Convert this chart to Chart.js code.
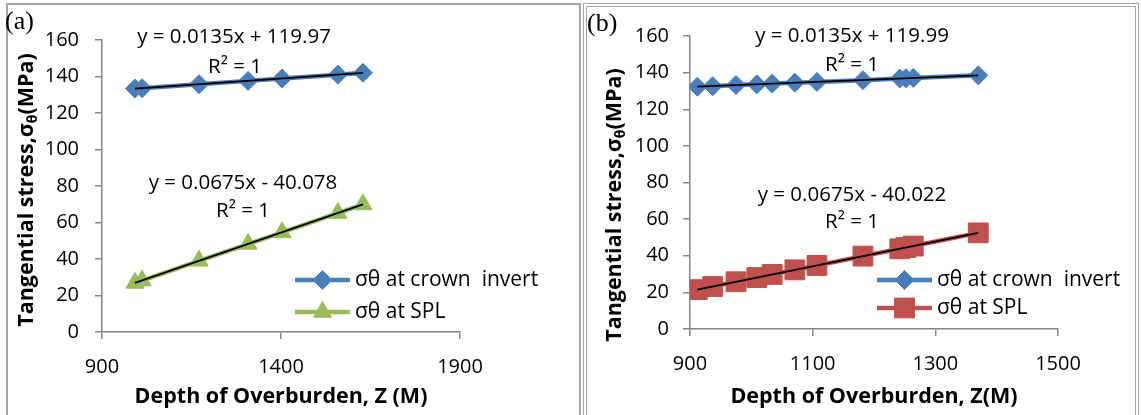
<!DOCTYPE html>
<html>
<head>
<meta charset="utf-8">
<script src="https://cdn.jsdelivr.net/npm/chart.js@4.4.1/dist/chart.umd.min.js"></script>
<style>
  body { margin: 0; width: 1141px; height: 415px; background: #fff; position: relative; overflow: hidden; }
  .frame { position: absolute; top: 3px; height: 430px; box-sizing: border-box; }
  #frameA { left: 6px; width: 575px; border: 2px solid #a6a6a6; }
  #frameB { left: 583px; width: 556px; border: 4px double #a6a6a6; }
  canvas { position: absolute; top: 0; }
  #chartA { left: 0; }
  #chartB { left: 582px; }
</style>
</head>
<body>
<div class="frame" id="frameA"></div>
<div class="frame" id="frameB"></div>
<canvas id="chartA" width="582" height="415"></canvas>
<canvas id="chartB" width="559" height="415"></canvas>
<script>
// (a) data
const depthA = [992, 1012, 1171, 1308, 1403, 1559, 1629];
const crownA = [133.4, 133.6, 135.8, 137.6, 138.9, 141.0, 142.0];
const splA = [26.9, 28.2, 39.0, 48.2, 54.6, 65.2, 69.9];
// trendline ends (a)
const trendDepthA = [992, 1629];
const trendCrownA = [133.4, 142.0];
const trendSplA = [26.9, 69.9];

// (b) data
const depthB = [912, 937, 975, 1009, 1034, 1071, 1107, 1182, 1242, 1252, 1264, 1370];
const crownB = [132.3, 132.6, 133.2, 133.6, 134.0, 134.5, 134.9, 135.9, 136.8, 136.9, 137.1, 138.5];
const splB = [21.5, 23.2, 25.8, 28.1, 29.8, 32.3, 34.7, 39.8, 43.8, 44.5, 45.3, 52.5];
// trendline ends (b)
const trendDepthB = [912, 1370];
const trendCrownB = [132.3, 138.5];
const trendSplB = [21.5, 52.5];

const yTicks = [0, 160, 20];
const seriesNames = ["σθ at crown  invert", "σθ at SPL"];

const blue = "#4a7ebb";
const green = "#9bbb59";
const red = "#c0504d";
const axisGrey = "#868686";
const sans = "'Open Sans', sans-serif";

Chart.defaults.font.family = sans;

const toPoints = (xs, ys) => xs.map((x, i) => ({ x: x, y: ys[i] }));
// plain numbers, no thousands comma
const plainTick = (value) => String(value);

// draws the equations, the y title with its subscript, the panel letter and the legend
const notesPlugin = {
  id: "notes",
  afterDraw(chart, args, opts) {
    const ctx = chart.ctx;
    ctx.save();
    ctx.fillStyle = "#000";
    ctx.textBaseline = "middle";

    // panel letter
    ctx.font = "26px 'Liberation Serif', serif";
    ctx.textAlign = "left";
    ctx.fillText(opts.letter, opts.letterPos[0], opts.letterPos[1]);

    // equations
    ctx.font = "20.5px " + sans;
    ctx.textAlign = "center";
    for (const note of opts.texts) ctx.fillText(note.text, note.x, note.y);

    // y axis title, rotated, with a subscript theta
    ctx.save();
    ctx.translate(opts.yTitlePos[0], opts.yTitlePos[1]);
    ctx.rotate(-Math.PI / 2);
    ctx.textAlign = "left";
    const big = "bold 21.5px " + sans;
    const small = "bold 14px " + sans;
    const parts = [
      { t: "Tangential stress,σ", f: big, dy: 0 },
      { t: "θ", f: small, dy: 6 },
      { t: "(MPa)", f: big, dy: 0 },
    ];
    let total = 0;
    for (const p of parts) {
      ctx.font = p.f;
      p.w = ctx.measureText(p.t).width;
      total += p.w;
    }
    let x = -total / 2;
    for (const p of parts) {
      ctx.font = p.f;
      ctx.fillText(p.t, x, p.dy);
      x += p.w;
    }
    ctx.restore();

    // legend
    const lg = opts.legend;
    ctx.font = "21px " + sans;
    ctx.textAlign = "left";
    [0, 1].forEach((i) => {
      const ds = chart.data.datasets[i];
      const y = lg.rows[i];
      ctx.strokeStyle = ds.borderColor;
      ctx.lineWidth = ds.borderWidth;
      ctx.beginPath();
      ctx.moveTo(lg.x1, y);
      ctx.lineTo(lg.x2, y);
      ctx.stroke();
      ctx.fillStyle = ds.backgroundColor;
      ctx.lineWidth = 1;
      Chart.helpers.drawPoint(ctx, { pointStyle: ds.pointStyle, radius: ds.pointRadius, rotation: 0, borderWidth: 1 }, (lg.x1 + lg.x2) / 2, y);
      ctx.fillStyle = "#000";
      ctx.fillText(ds.label, lg.textX, y);
    });
    ctx.restore();
  },
};

const makeChart = (canvasId, cfg) => {
  const ctx = document.getElementById(canvasId).getContext("2d");
  return new Chart(ctx, {
    type: "scatter",
    data: {
      datasets: [
        {
          label: seriesNames[0],
          data: toPoints(cfg.depth, cfg.crown),
          showLine: true,
          borderColor: blue,
          backgroundColor: blue,
          borderWidth: 4.5,
          pointStyle: "rectRot",
          pointRadius: 9.5,
          pointBorderWidth: 1,
          order: 2,
        },
        {
          label: seriesNames[1],
          data: toPoints(cfg.depth, cfg.spl),
          showLine: true,
          borderColor: cfg.splColor,
          backgroundColor: cfg.splColor,
          borderWidth: 4.5,
          pointStyle: cfg.splStyle,
          pointRadius: cfg.splRadius,
          pointBorderWidth: 1,
          order: 3,
        },
        {
          label: "trend crown",
          data: toPoints(cfg.trendDepth, cfg.trendCrown),
          showLine: true,
          borderColor: "#000",
          borderWidth: 1.8,
          pointRadius: 0,
          order: 0,
        },
        {
          label: "trend SPL",
          data: toPoints(cfg.trendDepth, cfg.trendSpl),
          showLine: true,
          borderColor: "#000",
          borderWidth: 1.8,
          pointRadius: 0,
          order: 1,
        },
      ],
    },
    options: {
      responsive: false,
      animation: false,
      layout: { padding: { left: 0, top: cfg.top, right: cfg.padRight, bottom: 0 } },
      plugins: {
        legend: { display: false },
        tooltip: { enabled: false },
        notes: cfg.notes,
      },
      scales: {
        x: {
          type: "linear",
          min: cfg.xTicks[0],
          max: cfg.xTicks[1],
          ticks: { stepSize: cfg.xTicks[2], color: "#000", font: { size: 20 }, padding: 16, callback: plainTick },
          grid: { drawOnChartArea: false, tickLength: 7, color: axisGrey, lineWidth: 1.5 },
          border: { color: axisGrey, width: 1.5 },
          title: {
            display: true,
            text: cfg.xTitle,
            color: "#000",
            font: { size: 21.5, weight: "bold" },
            padding: { top: 0, bottom: 5 },
          },
          afterFit: (scale) => { scale.height = cfg.xAxisHeight; },
        },
        y: {
          type: "linear",
          min: yTicks[0],
          max: yTicks[1],
          ticks: { stepSize: yTicks[2], color: "#000", font: { size: 20 }, padding: cfg.yPad, callback: plainTick },
          grid: { drawOnChartArea: false, tickLength: 7, color: axisGrey, lineWidth: 1.5 },
          border: { color: axisGrey, width: 1.5 },
          afterFit: (scale) => { scale.width = cfg.yAxisWidth; },
        },
      },
    },
    plugins: [notesPlugin],
  });
};

makeChart("chartA", {
  depth: depthA, crown: crownA, spl: splA,
  trendDepth: trendDepthA, trendCrown: trendCrownA, trendSpl: trendSplA,
  splColor: green, splStyle: "triangle", splRadius: 10.5,
  xTicks: [900, 1900, 500],
  xTitle: "Depth of Overburden, Z (M)",
  top: 40, padRight: 122, xAxisHeight: 83, yAxisWidth: 102, yPad: 16,
  notes: {
    letter: "(a)", letterPos: [5, 22],
    yTitlePos: [27, 190],
    texts: [
      { text: "y = 0.0135x + 119.97", x: 234, y: 37 },
      { text: "R² = 1", x: 235, y: 67 },
      { text: "y = 0.0675x - 40.078", x: 243, y: 183 },
      { text: "R² = 1", x: 243, y: 211 },
    ],
    legend: { x1: 295, x2: 350, textX: 355, rows: [280, 312] },
  },
});

makeChart("chartB", {
  depth: depthB, crown: crownB, spl: splB,
  trendDepth: trendDepthB, trendCrown: trendCrownB, trendSpl: trendSplB,
  splColor: red, splStyle: "rect", splRadius: 14,
  xTicks: [900, 1500, 200],
  xTitle: "Depth of Overburden, Z(M)",
  top: 36, padRight: 83, xAxisHeight: 86, yAxisWidth: 108, yPad: 14,
  notes: {
    letter: "(b)", letterPos: [5, 24],
    yTitlePos: [33, 205],
    texts: [
      { text: "y = 0.0135x + 119.99", x: 270, y: 36 },
      { text: "R² = 1", x: 270, y: 65 },
      { text: "y = 0.0675x - 40.022", x: 270, y: 195 },
      { text: "R² = 1", x: 270, y: 222 },
    ],
    legend: { x1: 295, x2: 350, textX: 355, rows: [280, 308] },
  },
});
</script>
</body>
</html>
